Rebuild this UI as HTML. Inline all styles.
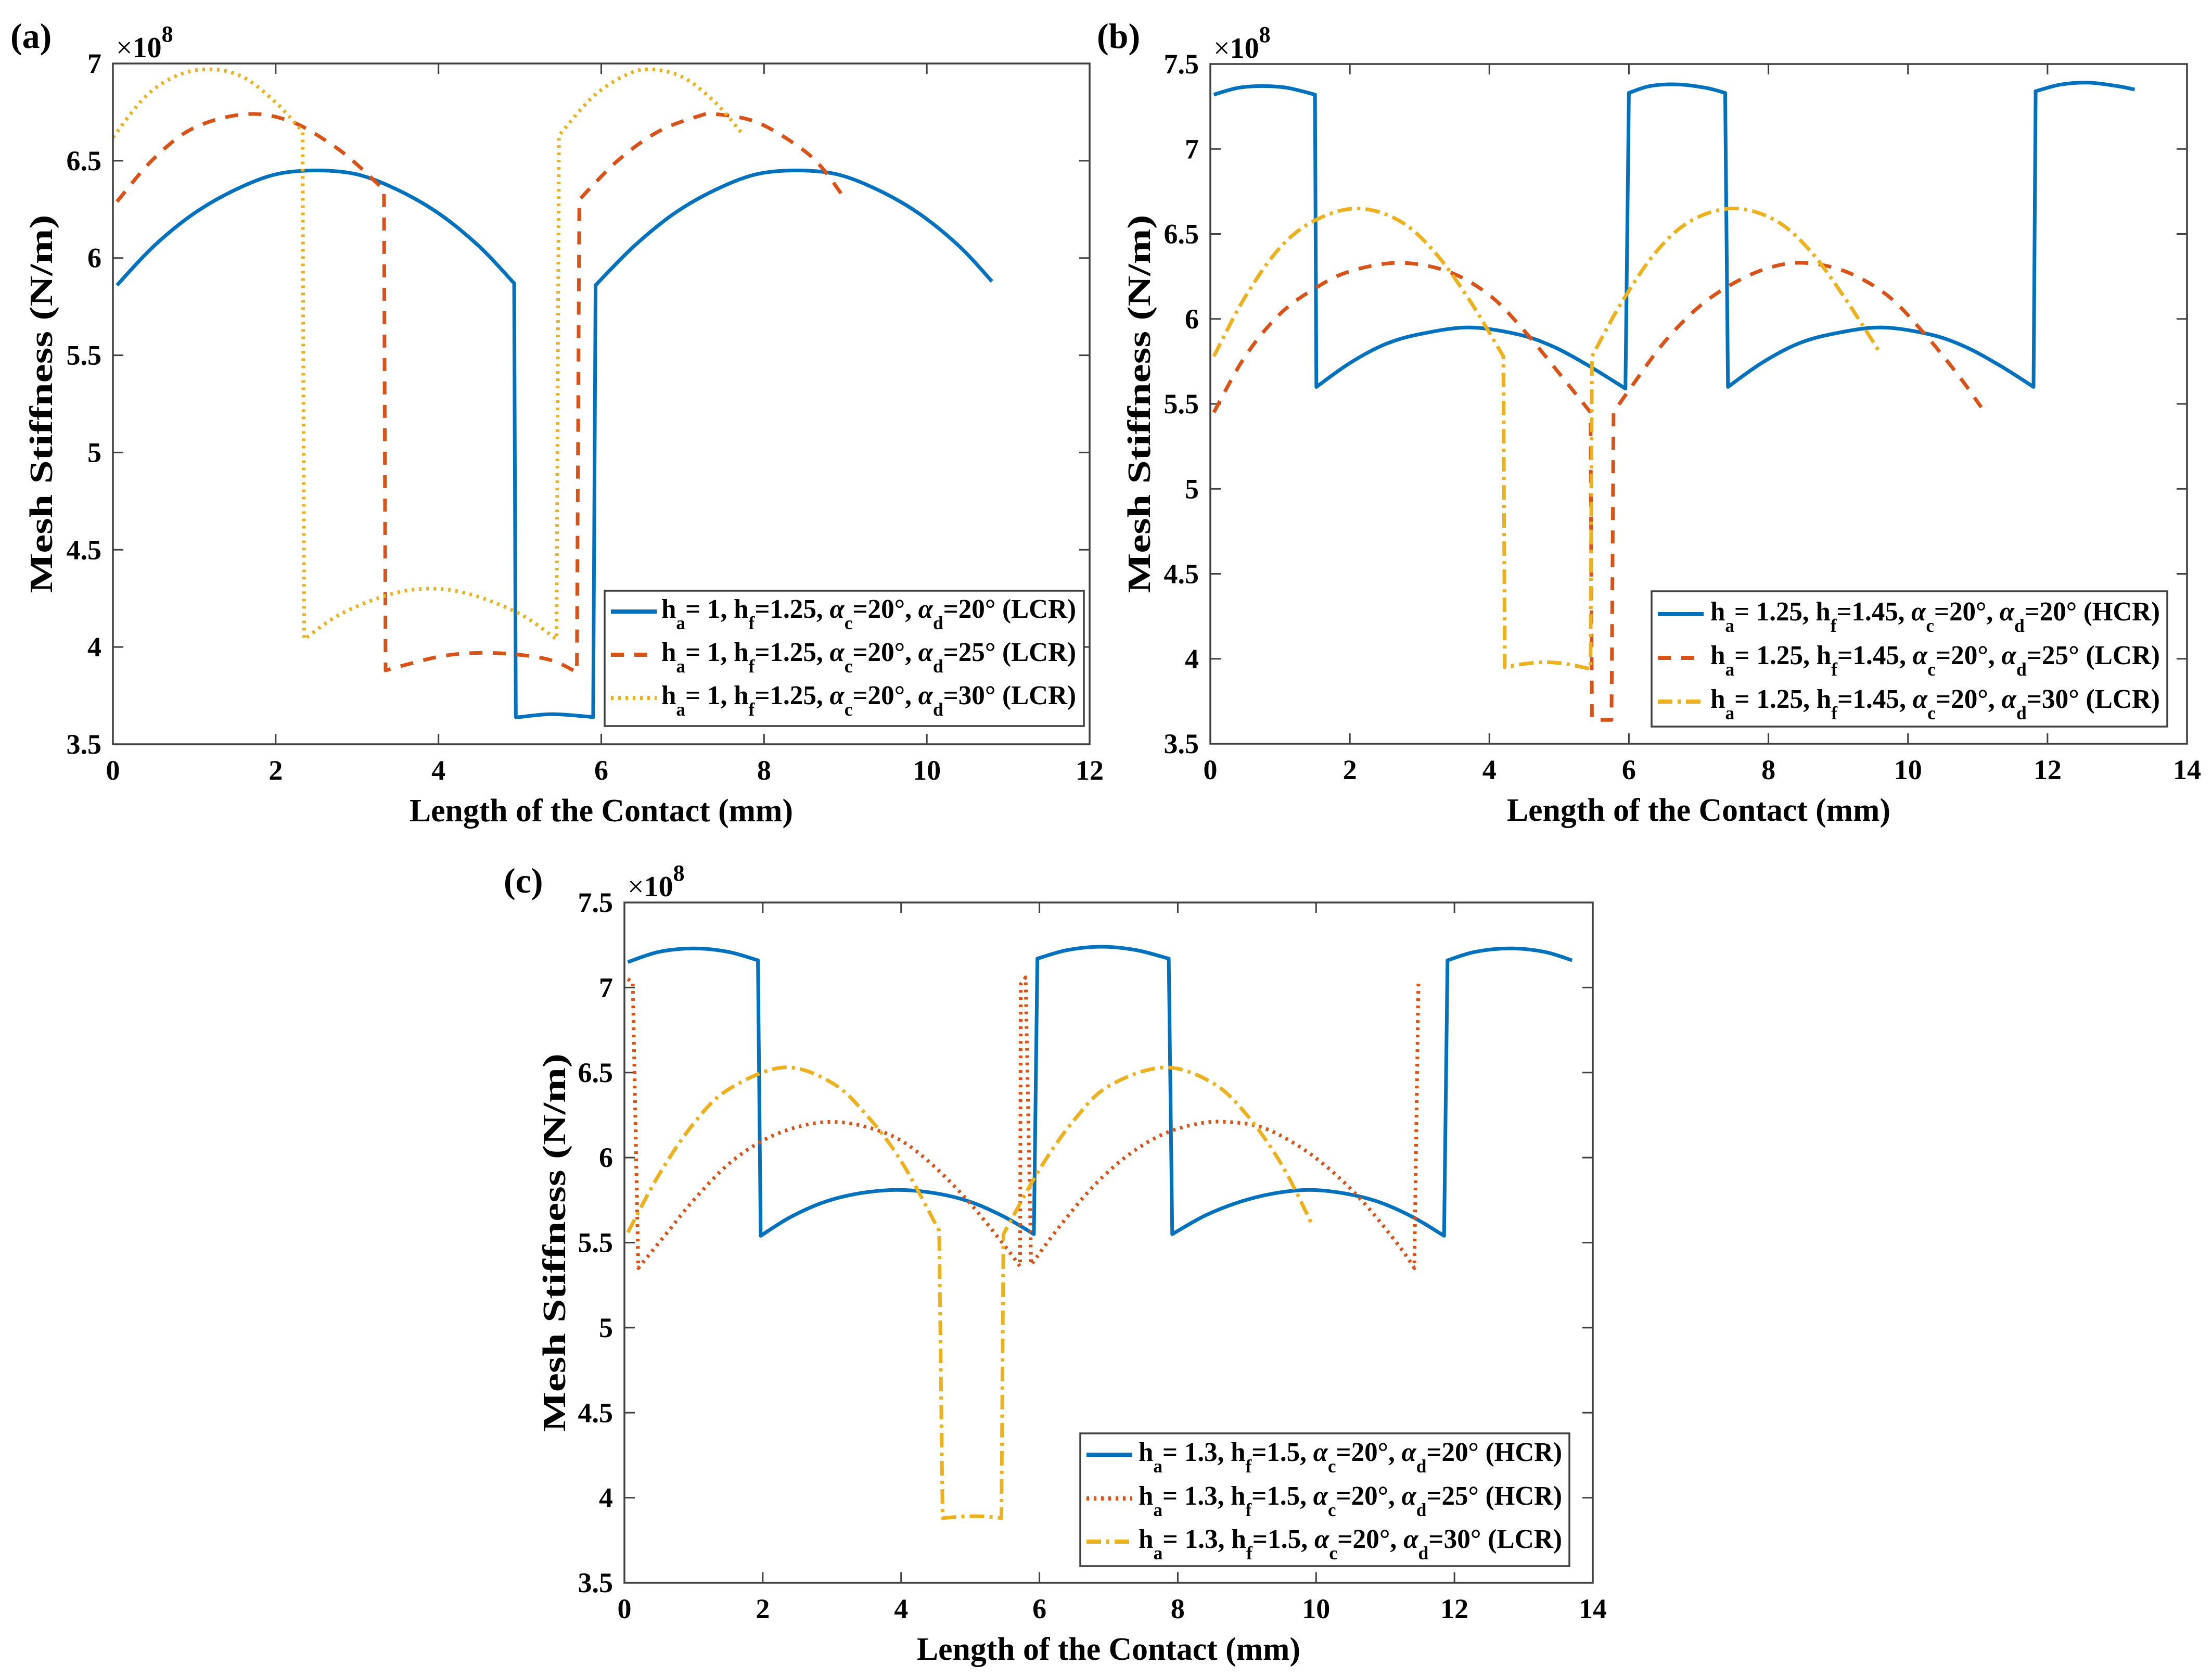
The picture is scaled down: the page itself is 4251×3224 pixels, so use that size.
<!DOCTYPE html>
<html><head><meta charset="utf-8"><style>
html,body{margin:0;padding:0;background:#fff}
svg{display:block}
text{font-family:"Liberation Serif",serif;font-weight:bold;fill:#000}
</style></head><body>
<svg id="fig" width="4251" height="3224" viewBox="0 0 4251 3224" xmlns="http://www.w3.org/2000/svg"></svg>
<script>
// ---------- Panel (a) data ----------
const aBlueX=[0.05,0.5,1,1.5,2,2.5,3,3.5,4,4.5,4.93,4.95,5.0,5.4,5.9,5.93,6.4,6.9,7.4,7.9,8.4,8.9,9.4,9.9,10.4,10.8];
const aBlueY=[5.86,6.06,6.23,6.35,6.43,6.45,6.43,6.35,6.23,6.06,5.87,3.64,3.64,3.655,3.64,5.86,6.06,6.23,6.35,6.43,6.45,6.43,6.35,6.23,6.06,5.88];
const aRedX=[0.05,0.5,1.0,1.65,2.2,2.7,3.0,3.33,3.35,4.0,4.5,5.0,5.4,5.7,5.73,6.2,6.7,7.2,7.4,7.9,8.4,8.7,9.0];
const aRedY=[6.29,6.51,6.67,6.74,6.70,6.58,6.48,6.35,3.88,3.95,3.97,3.96,3.93,3.87,6.30,6.50,6.65,6.73,6.74,6.70,6.58,6.47,6.30];
const aYelX=[0,0.4,0.8,1.2,1.6,2.0,2.33,2.35,2.8,3.4,3.9,4.4,5.0,5.45,5.48,5.9,6.3,6.6,7.0,7.4,7.75];
const aYelY=[6.62,6.83,6.94,6.97,6.93,6.80,6.65,4.04,4.17,4.27,4.30,4.27,4.17,4.04,6.63,6.83,6.94,6.97,6.93,6.80,6.63];
const aXTicks=[0,2,4,6,8,10,12];
const aYTicks=[3.5,4,4.5,5,5.5,6,6.5,7];
const aXLabels=["0","2","4","6","8","10","12"];
const aYLabels=["3.5","4","4.5","5","5.5","6","6.5","7"];
// ---------- Panel (b) data ----------
const bBlueX=[0.05,0.4,0.75,1.1,1.5,1.52,2.0,2.5,3.0,3.7,4.4,4.9,5.4,5.95,6.0,6.3,6.7,7.1,7.38,7.42,7.9,8.4,8.9,9.6,10.3,10.8,11.3,11.8,11.83,12.2,12.6,13.0,13.25];
const bBlueY=[7.32,7.36,7.37,7.36,7.32,5.60,5.74,5.85,5.91,5.95,5.91,5.84,5.73,5.59,7.33,7.37,7.38,7.36,7.33,5.60,5.74,5.85,5.91,5.95,5.91,5.84,5.73,5.60,7.34,7.38,7.39,7.37,7.35];
const bRedX=[0.05,0.5,1.0,1.5,2.0,2.7,3.4,4.0,4.5,5.0,5.45,5.47,5.5,5.75,5.78,6.0,6.5,7.0,7.5,8.0,8.5,9.1,9.7,10.2,10.7,11.05];
const bRedY=[5.45,5.78,6.03,6.18,6.28,6.33,6.28,6.14,5.93,5.68,5.45,3.65,3.64,3.64,5.45,5.58,5.86,6.07,6.21,6.30,6.33,6.28,6.14,5.93,5.68,5.48];
const bYelX=[0.05,0.5,1.0,1.5,2.1,2.7,3.2,3.7,4.2,4.22,4.5,4.8,5.1,5.45,5.47,5.9,6.4,6.9,7.5,8.1,8.6,9.1,9.6];
const bYelY=[5.78,6.13,6.42,6.58,6.65,6.58,6.40,6.12,5.78,3.95,3.97,3.98,3.97,3.94,5.78,6.10,6.40,6.58,6.65,6.58,6.40,6.12,5.80];
const bXTicks=[0,2,4,6,8,10,12,14];
const bYTicks=[3.5,4,4.5,5,5.5,6,6.5,7,7.5];
const bXLabels=["0","2","4","6","8","10","12","14"];
const bYLabels=["3.5","4","4.5","5","5.5","6","6.5","7","7.5"];
// ---------- Panel (c) data ----------
const cBlueX=[0.05,0.5,1.0,1.5,1.93,1.97,2.4,2.9,3.4,3.95,4.5,5.0,5.5,5.92,5.97,6.4,6.9,7.4,7.87,7.92,8.4,8.9,9.4,9.9,10.4,10.9,11.4,11.85,11.9,12.3,12.8,13.3,13.7];
const cBlueY=[7.15,7.21,7.23,7.21,7.16,5.54,5.65,5.74,5.79,5.81,5.79,5.74,5.65,5.55,7.17,7.22,7.24,7.22,7.17,5.55,5.66,5.74,5.79,5.81,5.79,5.74,5.65,5.54,7.16,7.21,7.23,7.21,7.16];
const cRedX=[0.05,0.12,0.2,0.6,1.0,1.5,2.0,2.5,3.0,3.5,4.0,4.5,5.0,5.5,5.72,5.73,5.8,5.88,6.3,6.8,7.3,7.8,8.3,8.7,9.2,9.7,10.2,10.7,11.2,11.42,11.48];
const cRedY=[7.05,7.03,5.35,5.55,5.75,5.96,6.10,6.18,6.21,6.18,6.10,5.94,5.73,5.48,5.36,7.02,7.06,5.37,5.60,5.84,6.02,6.14,6.20,6.21,6.18,6.08,5.93,5.73,5.48,5.35,7.05];
const cYelX=[0.05,0.5,1.0,1.5,2.3,3.0,3.5,4.0,4.55,4.6,4.9,5.2,5.45,5.48,6.0,6.5,7.0,7.8,8.5,9.0,9.5,9.95];
const cYelY=[5.56,5.90,6.20,6.40,6.53,6.44,6.25,5.98,5.57,3.88,3.89,3.89,3.88,5.55,5.93,6.22,6.42,6.53,6.44,6.25,5.96,5.60];
const cXTicks=[0,2,4,6,8,10,12,14];
const cYTicks=[3.5,4,4.5,5,5.5,6,6.5,7,7.5];
const cXLabels=["0","2","4","6","8","10","12","14"];
const cYLabels=["3.5","4","4.5","5","5.5","6","6.5","7","7.5"];

const NS="http://www.w3.org/2000/svg";
const svg=document.getElementById('fig');
const BLUE="#0072BD",RED="#D95319",YEL="#EDB120";
function mk(tag,attrs,parent){const e=document.createElementNS(NS,tag);for(const k in attrs)e.setAttribute(k,attrs[k]);(parent||svg).appendChild(e);return e;}

// smooth path: Catmull-Rom within continuous segments, straight lines across jumps
function smoothPath(xs,ys,sx,sy){
  const n=xs.length;
  const isJump=i=>(xs[i+1]-xs[i])<0.1;
  const P=i=>[sx(xs[i]),sy(ys[i])];
  let d='M'+P(0)[0].toFixed(1)+','+P(0)[1].toFixed(1);
  for(let i=0;i<n-1;i++){
    const p1=P(i),p2=P(i+1);
    if(isJump(i)){d+=' L'+p2[0].toFixed(1)+','+p2[1].toFixed(1);continue;}
    const p0=(i>0&&!isJump(i-1))?P(i-1):p1;
    const p3=(i+2<n&&!isJump(i+1))?P(i+2):p2;
    const c1=[p1[0]+(p2[0]-p0[0])/6,p1[1]+(p2[1]-p0[1])/6];
    const c2=[p2[0]-(p3[0]-p1[0])/6,p2[1]-(p3[1]-p1[1])/6];
    d+=' C'+c1[0].toFixed(1)+','+c1[1].toFixed(1)+' '+c2[0].toFixed(1)+','+c2[1].toFixed(1)+' '+p2[0].toFixed(1)+','+p2[1].toFixed(1);
  }
  return d;
}

function panel(cfg){
  const g=mk('g',{});
  
  
  const L=cfg.L,R=cfg.R,T=cfg.T,B=cfg.B;
  const sx=v=>L+(v-cfg.x0)/(cfg.x1-cfg.x0)*(R-L);
  const sy=v=>B-(v-cfg.y0)/(cfg.y1-cfg.y0)*(B-T);
  cfg.xt.forEach((v,i)=>{
    const x=sx(v);
    const t1=mk('line',{x1:x,y1:B,x2:x,y2:B-20,stroke:'#404040','stroke-width':3},g);
    
    
    const t2=mk('line',{x1:x,y1:T,x2:x,y2:T+20,stroke:'#404040','stroke-width':3},g);
    
    
    const tl=mk('text',{x:x,y:B+68,'font-size':54,'text-anchor':'middle'},g);
    tl.textContent=cfg.xl[i];
    
    
  });
  cfg.yt.forEach((v,i)=>{
    const y=sy(v);
    const t1=mk('line',{x1:L,y1:y,x2:L+20,y2:y,stroke:'#404040','stroke-width':3},g);
    
    
    const t2=mk('line',{x1:R,y1:y,x2:R-20,y2:y,stroke:'#404040','stroke-width':3},g);
    
    
    const tl=mk('text',{x:L-22,y:y+18,'font-size':54,'text-anchor':'end'},g);
    tl.textContent=cfg.yl[i];
    
    
  });
  cfg.series.forEach(s=>{
    const p=mk('path',{d:smoothPath(s.x,s.y,sx,sy),fill:'none',stroke:s.c,'stroke-width':7,'stroke-linejoin':'round','stroke-dasharray':s.d||'none'},g);
    
    
  });
  const box=mk('rect',{x:L,y:T,width:R-L,height:B-T,fill:'none',stroke:'#404040','stroke-width':3.5},g);
  
  
  const ex=mk('text',{x:L+6,y:T-12,'font-size':56,'font-weight':'normal'},g);
  
  
  const e1=mk('tspan',{'font-weight':'normal'},ex);e1.textContent='×';
  const e2=mk('tspan',{'font-weight':'bold'},ex);e2.textContent='10';
  const e3=mk('tspan',{'font-size':44,dy:-30},ex);e3.textContent='8';
  const xl=mk('text',{x:(L+R)/2,y:B+148,'font-size':62,'text-anchor':'middle',textLength:737,lengthAdjust:'spacingAndGlyphs'},g);
  xl.textContent='Length of the Contact (mm)';
  
  
  const ylx=cfg.ylx,yly=(T+B)/2;
  const yl=mk('text',{x:ylx,y:yly,'font-size':62,'text-anchor':'middle',transform:`rotate(-90 ${ylx} ${yly})`,textLength:727,lengthAdjust:'spacingAndGlyphs'},g);
  yl.textContent='Mesh Stiffness (N/m)';
  
  
  const pl=mk('text',{x:cfg.plx,y:cfg.ply,'font-size':68},g);
  pl.textContent=cfg.label;
  
  
  const lg=cfg.lg;
  const lgG=mk('g',{},g);
  
  
  mk('rect',{x:lg.x,y:lg.y,width:lg.w,height:lg.h,fill:'#fff',stroke:'#404040','stroke-width':3.5},lgG);
  cfg.series.forEach((s,i)=>{
    const by=lg.rows[i];
    const ln=mk('line',{x1:lg.x+12,y1:by-12,x2:lg.x+100,y2:by-12,stroke:s.c,'stroke-width':8,'stroke-dasharray':s.d||'none'},lgG);
    
    
    const t=mk('text',{x:lg.tx,y:by,'font-size':52,textLength:lg.tw,lengthAdjust:'spacingAndGlyphs'},lgG);
    
    
    s.lab.forEach(p=>{
      const ts=mk('tspan',p.sub?{'font-size':36,dy:22}:{dy:p.back?-22:0},t);
      if(p.greek)ts.setAttribute('font-style','italic');
      ts.textContent=p.t;
    });
  });
}
function lab(ha,hf,ad,cr){
  return [{t:'h'},{t:'a',sub:1},{t:'= '+ha+', h',back:1},{t:'f',sub:1},{t:'='+hf+', ',back:1},{t:'α',greek:1},{t:'c',sub:1},{t:'=20°, ',back:1},{t:'α',greek:1},{t:'d',sub:1},{t:'='+ad+'° ('+cr+')',back:1}];
}
panel({name:'panel-a',label:'(a)',plx:20,ply:92,L:217,R:2094,T:122,B:1430,x0:0,x1:12,y0:3.5,y1:7,
  xt:aXTicks,yt:aYTicks,xl:aXLabels,yl:aYLabels,ylx:100,
  lg:{x:1162,y:1135,w:921,h:260,tx:1271,tw:797,rows:[1187,1270,1353]},
  series:[{x:aBlueX,y:aBlueY,c:BLUE,n:'series-ad20',lab:lab('1','1.25','20','LCR')},
          {x:aRedX,y:aRedY,c:RED,d:'25 20',n:'series-ad25',lab:lab('1','1.25','25','LCR')},
          {x:aYelX,y:aYelY,c:YEL,d:'5 9',n:'series-ad30',lab:lab('1','1.25','30','LCR')}]});
panel({name:'panel-b',label:'(b)',plx:2108,ply:92,L:2326,R:4203,T:123,B:1429,x0:0,x1:14,y0:3.5,y1:7.5,
  xt:bXTicks,yt:bYTicks,xl:bXLabels,yl:bYLabels,ylx:2210,
  lg:{x:3174,y:1136,w:991,h:260,tx:3287,tw:864,rows:[1192,1276,1360]},
  series:[{x:bBlueX,y:bBlueY,c:BLUE,n:'series-ad20',lab:lab('1.25','1.45','20','HCR')},
          {x:bRedX,y:bRedY,c:RED,d:'25 20',n:'series-ad25',lab:lab('1.25','1.45','25','LCR')},
          {x:bYelX,y:bYelY,c:YEL,d:'28 10 6 10',n:'series-ad30',lab:lab('1.25','1.45','30','LCR')}]});
panel({name:'panel-c',label:'(c)',plx:968,ply:1715,L:1200,R:3061,T:1734,B:3041,x0:0,x1:14,y0:3.5,y1:7.5,
  xt:cXTicks,yt:cYTicks,xl:cXLabels,yl:cYLabels,ylx:1086,
  lg:{x:2076,y:2754,w:940,h:255,tx:2188,tw:814,rows:[2807,2891,2974]},
  series:[{x:cBlueX,y:cBlueY,c:BLUE,n:'series-ad20',lab:lab('1.3','1.5','20','HCR')},
          {x:cRedX,y:cRedY,c:RED,d:'5 9',n:'series-ad25',lab:lab('1.3','1.5','25','HCR')},
          {x:cYelX,y:cYelY,c:YEL,d:'28 10 6 10',n:'series-ad30',lab:lab('1.3','1.5','30','LCR')}]});
</script>
</body></html>
